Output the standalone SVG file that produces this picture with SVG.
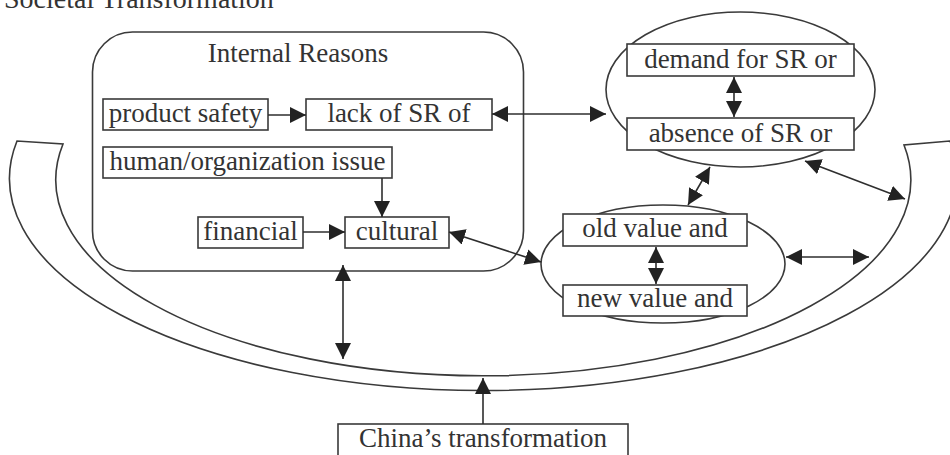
<svg xmlns="http://www.w3.org/2000/svg" width="950" height="455" viewBox="0 0 950 455">
  <style>
    .box { fill: #ffffff; stroke: #3a3a3a; stroke-width: 1.6; }
    .shape { fill: none; stroke: #3a3a3a; stroke-width: 1.6; }
    .lbl { font-family: "Liberation Serif", "Times New Roman", serif; font-size: 27px; fill: #333333; text-anchor: middle; }
    .title { font-family: "Liberation Serif", "Times New Roman", serif; font-size: 28px; fill: #333333; }
    .conn { fill: none; stroke: #2e2e2e; stroke-width: 1.6; }
  </style>
  <defs>
    <marker id="head" viewBox="0 0 16 16" refX="16" refY="8" markerWidth="16" markerHeight="16" markerUnits="userSpaceOnUse" orient="auto-start-reverse">
      <path d="M0,0 L16,8 L0,16 z" fill="#222222"/>
    </marker>
  </defs>

  <rect width="950" height="455" fill="#ffffff"/>

  <!-- heading -->
  <text class="title" x="4" y="8">Societal Transformation</text>

  <!-- curved band: the surrounding societal context -->
  <g id="band">
    <path class="shape" fill="#ffffff" d="M63,144 A427.5,196 0 1 0 904,145 L950,141 A474,212 0 1 1 17,141 Z"/>
  </g>

  <!-- internal reasons container -->
  <g id="internal-reasons">
    <rect class="shape" x="92.5" y="32" width="431" height="239" rx="40" ry="40"/>
    <text class="lbl" x="298" y="62">Internal Reasons</text>
  </g>

  <g id="product-safety">
    <rect class="box" x="103" y="99" width="165" height="31"/>
    <text class="lbl" x="185.5" y="122">product safety</text>
  </g>
  <g id="lack-of-sr">
    <rect class="box" x="306" y="99" width="186" height="31"/>
    <text class="lbl" x="399" y="122">lack of SR of</text>
  </g>
  <g id="human-org">
    <rect class="box" x="103" y="147" width="289" height="31"/>
    <text class="lbl" x="247.5" y="170">human/organization issue</text>
  </g>
  <g id="financial">
    <rect class="box" x="198" y="217" width="105" height="31"/>
    <text class="lbl" x="250.5" y="240">financial</text>
  </g>
  <g id="cultural">
    <rect class="box" x="345" y="217" width="104" height="31"/>
    <text class="lbl" x="397" y="240">cultural</text>
  </g>

  <!-- demand / absence cluster -->
  <g id="sr-cluster">
    <ellipse class="shape" cx="740.5" cy="89.5" rx="134.5" ry="77.5"/>
  </g>
  <g id="demand-sr">
    <rect class="box" x="627" y="44" width="227" height="32"/>
    <text class="lbl" x="740.5" y="68">demand for SR or</text>
  </g>
  <g id="absence-sr">
    <rect class="box" x="627" y="118" width="227" height="32"/>
    <text class="lbl" x="740.5" y="142">absence of SR or</text>
  </g>

  <!-- value cluster -->
  <g id="value-cluster">
    <ellipse class="shape" cx="663" cy="264" rx="122" ry="59"/>
  </g>
  <g id="old-value">
    <rect class="box" x="563" y="214" width="184" height="32"/>
    <text class="lbl" x="655" y="237">old value and</text>
  </g>
  <g id="new-value">
    <rect class="box" x="563" y="285" width="184" height="31"/>
    <text class="lbl" x="655" y="307">new value and</text>
  </g>

  <g id="china">
    <rect class="box" x="338" y="424" width="290" height="32"/>
    <text class="lbl" x="483" y="447">China’s transformation</text>
  </g>

  <!-- connectors -->
  <g id="connectors">
    <line class="conn" x1="268" y1="115" x2="306" y2="115" marker-end="url(#head)"/>
    <line class="conn" x1="492" y1="114" x2="606" y2="114" marker-start="url(#head)" marker-end="url(#head)"/>
    <line class="conn" x1="382" y1="178" x2="382" y2="217" marker-end="url(#head)"/>
    <line class="conn" x1="303" y1="232" x2="345" y2="232" marker-end="url(#head)"/>
    <line class="conn" x1="449" y1="232" x2="541" y2="262" marker-start="url(#head)" marker-end="url(#head)"/>
    <line class="conn" x1="734" y1="77" x2="734" y2="117" marker-start="url(#head)" marker-end="url(#head)"/>
    <line class="conn" x1="710" y1="167" x2="688" y2="205" marker-start="url(#head)" marker-end="url(#head)"/>
    <line class="conn" x1="805" y1="161" x2="905" y2="199" marker-start="url(#head)" marker-end="url(#head)"/>
    <line class="conn" x1="656" y1="247" x2="656" y2="284" marker-start="url(#head)" marker-end="url(#head)"/>
    <line class="conn" x1="786" y1="257" x2="869" y2="257" marker-start="url(#head)" marker-end="url(#head)"/>
    <line class="conn" x1="343" y1="265" x2="343" y2="359" marker-start="url(#head)" marker-end="url(#head)"/>
    <line class="conn" x1="483" y1="424" x2="483" y2="378" marker-end="url(#head)"/>
  </g>
</svg>
